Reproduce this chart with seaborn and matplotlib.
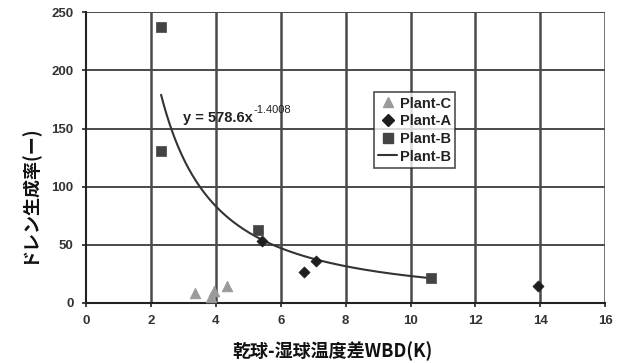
import numpy as np
import pandas as pd
import matplotlib
matplotlib.use("Agg")
import matplotlib.pyplot as plt
import seaborn as sns

# Measured points per plant
plant_c_x = [3.37, 3.85, 3.93, 4.34]
plant_c_y = [8, 5, 10, 14.6]
plant_a_x = [5.42, 6.71, 7.1, 13.94]
plant_a_y = [53.4, 26.2, 35.9, 14.4]
plant_b_x = [2.31, 2.31, 5.3, 10.62]
plant_b_y = [237.5, 130.5, 62.5, 21]

# Power-law fit for Plant-B: y = a * x^b
fit_a = 578.6
fit_b = -1.4008

x_ticks = [0, 2, 4, 6, 8, 10, 12, 14, 16]
y_ticks = [0, 50, 100, 150, 200, 250]

sns.set_theme(style="white")
plt.rcParams["font.family"] = ["Liberation Sans", "Noto Sans CJK JP", "DejaVu Sans"]

df = pd.DataFrame({
    "x": plant_c_x + plant_a_x + plant_b_x,
    "y": plant_c_y + plant_a_y + plant_b_y,
    "plant": ["Plant-C"] * 4 + ["Plant-A"] * 4 + ["Plant-B"] * 4,
})

fig = plt.figure(figsize=(6.24, 3.63), dpi=100)
ax = fig.add_axes([0.138, 0.166, 0.832, 0.800])

fit_x = np.linspace(min(plant_b_x), max(plant_b_x), 200)
fit_df = pd.DataFrame({"x": fit_x, "y": fit_a * fit_x ** fit_b})

grid_c = "#4a4a4a"
for t in x_ticks[1:]:
    ax.axvline(t, color=grid_c, lw=1.8, zorder=0)
for t in y_ticks[1:]:
    ax.axhline(t, color=grid_c, lw=1.4, zorder=0)

sns.lineplot(data=fit_df, x="x", y="y", ax=ax, color="#333333", lw=1.5,
             zorder=2, legend=False)

styles = {"Plant-C": ("^", "#9a9a9a", 60),
          "Plant-A": ("D", "#1e1e1e", 32),
          "Plant-B": ("s", "#444444", 60)}
handles = []
for name in ["Plant-C", "Plant-A", "Plant-B"]:
    m, c, s = styles[name]
    sub = df[df["plant"] == name]
    sns.scatterplot(data=sub, x="x", y="y", ax=ax, marker=m, color=c, s=s,
                    edgecolor=c, linewidth=0.5, zorder=3, legend=False)
    handles.append(plt.Line2D([], [], ls="none", marker=m, color=c,
                              markersize=7 if m != "D" else 6, label=name))
handles.append(plt.Line2D([], [], color="#333333", lw=1.5, label="Plant-B"))

ax.set_xlim(0, 16)
ax.set_ylim(0, 250)
ax.set_xticks(x_ticks)
ax.set_yticks(y_ticks)
ax.set_xticklabels([str(t) for t in x_ticks], fontsize=9.5, fontweight="bold", color="#333333")
ax.set_yticklabels([str(t) for t in y_ticks], fontsize=9.5, fontweight="bold", color="#333333")
ax.tick_params(axis="both", length=3, width=1.2, color="#222222", direction="out", pad=6,
               bottom=True, left=True)
for side in ["top", "right"]:
    ax.spines[side].set_visible(False)
for side in ["left", "bottom"]:
    ax.spines[side].set_color("#222222")
    ax.spines[side].set_linewidth(1.5)

cjk = ["Noto Sans CJK JP", "DejaVu Sans"]
ax.set_xlabel("乾球-湿球温度差WBD(K)", fontsize=13, fontweight="bold", family=cjk,
              color="#111111")
ax.xaxis.set_label_coords(0.474, -0.133)
ax.set_ylabel("ドレン生成率(ー)", fontsize=13, fontweight="bold", family=cjk,
              color="#111111")
ax.yaxis.set_label_coords(-0.093, 0.375)

# Fitted equation, with the exponent as a raised label
eq = ax.text(3.0, 159, "y = 578.6x", fontsize=10.5, fontweight="bold",
             color="#222222", va="center", ha="left")
ax.annotate("-1.4008", xy=(1.0, 0.75), xycoords=eq, fontsize=8, color="#222222",
            va="bottom", ha="left")

leg = ax.legend(handles=handles, loc="upper left", bbox_to_anchor=(0.554, 0.725),
                frameon=True, fancybox=False, fontsize=10.5, handlelength=1.3,
                handletextpad=0.2, borderpad=0.3, labelspacing=0.25, borderaxespad=0)
leg.get_frame().set_edgecolor("#222222")
leg.get_frame().set_linewidth(1.2)
for t in leg.get_texts():
    t.set_fontweight("bold")
    t.set_color("#222222")

fig.savefig("out.png", dpi=100)
